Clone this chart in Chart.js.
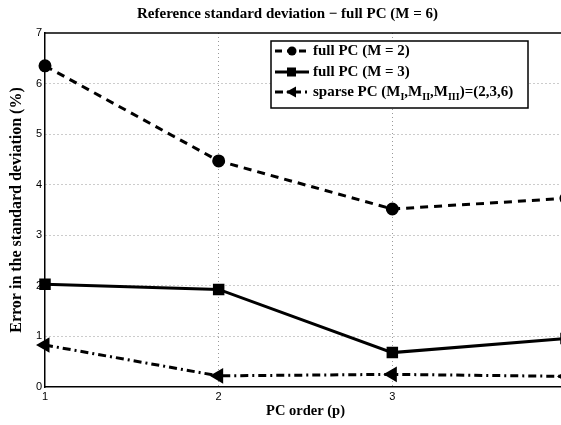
<!DOCTYPE html>
<html>
<head>
<meta charset="utf-8">
<script src="https://cdn.jsdelivr.net/npm/chart.js@4/dist/chart.umd.min.js"></script>
<style>
  html, body { margin: 0; padding: 0; background: #fff; overflow: hidden; }
  #wrap { position: absolute; left: 0; top: 0; width: 575px; height: 425px; }
</style>
</head>
<body>
<div id="wrap"><canvas id="chart" width="575" height="425"></canvas></div>
<script>
// data
var pcOrder = [1, 2, 3, 4];
var fullM2 = [6.35, 4.47, 3.52, 3.73];
var fullM3 = [2.03, 1.93, 0.68, 0.96];
var sparsePC = [0.83, 0.22, 0.25, 0.21];
var xTickLabels = ['1', '2', '3'];
var seriesNames = ['full PC (M = 2)', 'full PC (M = 3)', 'sparse PC'];

var serif = '"Liberation Serif", "Times New Roman", serif';
var sans = '"Liberation Sans", Arial, sans-serif';

function pts(ys) {
  return ys.map(function (y, i) { return { x: pcOrder[i], y: y }; });
}

// frame top line + legend box, matlab style
var matlabBits = {
  id: 'matlabBits',
  afterDatasetsDraw: function (chart) {
    var ctx = chart.ctx;
    var a = chart.chartArea;
    ctx.save();
    ctx.strokeStyle = '#000';
    ctx.lineWidth = 1.5;
    ctx.beginPath();
    ctx.moveTo(a.left, a.top);
    ctx.lineTo(a.right, a.top);
    ctx.stroke();

    // legend
    var bx = 271, by = 41, bw = 257, bh = 67;
    ctx.fillStyle = '#fff';
    ctx.fillRect(bx, by, bw, bh);
    ctx.lineWidth = 1.5;
    ctx.strokeRect(bx, by, bw, bh);

    var rows = [51, 72, 92];
    var dashes = [[7, 5], [], [8, 4, 2, 4]];
    for (var i = 0; i < 3; i++) {
      var y = rows[i];
      ctx.setLineDash(dashes[i]);
      ctx.lineWidth = 3;
      ctx.beginPath();
      ctx.moveTo(275, y);
      ctx.lineTo(309, y);
      ctx.stroke();
      ctx.setLineDash([]);
      ctx.fillStyle = '#000';
      ctx.beginPath();
      if (i === 0) {
        ctx.arc(292, y, 4.5, 0, Math.PI * 2);
        ctx.fill();
      } else if (i === 1) {
        ctx.fillRect(287, y - 4.5, 9, 9);
      } else {
        ctx.moveTo(286, y);
        ctx.lineTo(296, y - 5.5);
        ctx.lineTo(296, y + 5.5);
        ctx.closePath();
        ctx.fill();
      }
      ctx.fillStyle = '#000';
      ctx.textBaseline = 'middle';
      ctx.textAlign = 'left';
      ctx.font = 'bold 15px ' + serif;
      if (i < 2) {
        ctx.fillText(seriesNames[i], 313, y);
      } else {
        var parts = [['sparse PC (M', 0], ['I', 1], [',M', 0], ['II', 1], [',M', 0], ['III', 1], [')=(2,3,6)', 0]];
        var x = 313;
        parts.forEach(function (p) {
          ctx.font = p[1] ? 'bold 10px ' + serif : 'bold 15px ' + serif;
          ctx.fillText(p[0], x, p[1] ? y + 5 : y);
          x += ctx.measureText(p[0]).width;
        });
      }
    }
    ctx.restore();
  }
};

new Chart(document.getElementById('chart'), {
  type: 'line',
  data: {
    datasets: [{
      label: seriesNames[0],
      data: pts(fullM2),
      borderColor: '#000',
      backgroundColor: '#000',
      borderWidth: 3,
      borderDash: [8, 6],
      pointStyle: 'circle',
      pointRadius: 5,
      tension: 0,
      clip: false
    }, {
      label: seriesNames[1],
      data: pts(fullM3),
      borderColor: '#000',
      backgroundColor: '#000',
      borderWidth: 3,
      pointStyle: 'rect',
      pointRadius: 6,
      tension: 0,
      clip: false
    }, {
      label: seriesNames[2],
      data: pts(sparsePC),
      borderColor: '#000',
      backgroundColor: '#000',
      borderWidth: 3,
      borderDash: [8, 4, 2, 4],
      pointStyle: 'triangle',
      pointRotation: -90,
      pointRadius: 6,
      tension: 0,
      clip: false
    }]
  },
  options: {
    responsive: false,
    animation: false,
    layout: { padding: { left: 0, right: 0, top: 0, bottom: 0 } },
    plugins: {
      legend: { display: false },
      tooltip: { enabled: false },
      title: {
        display: true,
        text: 'Reference standard deviation \u2212 full PC (M = 6)',
        color: '#000',
        font: { family: serif, size: 15, weight: 'bold' },
        padding: { top: 5, bottom: 10 }
      }
    },
    scales: {
      x: {
        type: 'linear',
        min: 1,
        max: 4,
        afterFit: function (s) { s.height = 38; },
        ticks: {
          stepSize: 1,
          color: '#000',
          font: { family: sans, size: 11 },
          padding: 3,
          callback: function (v) { return xTickLabels[v - 1] || ''; }
        },
        grid: {
          color: function (c) { return c.tick && c.tick.value > 1 ? '#999' : 'rgba(0,0,0,0)'; },
          lineWidth: 1,
          drawTicks: false
        },
        border: { display: true, color: '#000', width: 1.5, dash: [1, 3] },
        title: {
          display: true,
          text: 'PC order (p)',
          color: '#000',
          font: { family: serif, size: 14.5, weight: 'bold' },
          padding: { top: 4, bottom: 5 }
        }
      },
      y: {
        min: 0,
        max: 7,
        afterFit: function (s) { s.width = 45; },
        ticks: {
          stepSize: 1,
          color: '#000',
          font: { family: sans, size: 11 },
          padding: 3
        },
        grid: {
          color: function (c) { return c.tick && c.tick.value > 0 && c.tick.value < 7 ? '#999' : 'rgba(0,0,0,0)'; },
          lineWidth: 1,
          drawTicks: false
        },
        border: { display: true, color: '#000', width: 1.5, dash: [1, 3] },
        title: {
          display: true,
          text: 'Error in the standard deviation (%)',
          color: '#000',
          font: { family: serif, size: 16, weight: 'bold' },
          padding: { top: 7, bottom: 2 }
        }
      }
    }
  },
  plugins: [matlabBits]
});
</script>
</body>
</html>
